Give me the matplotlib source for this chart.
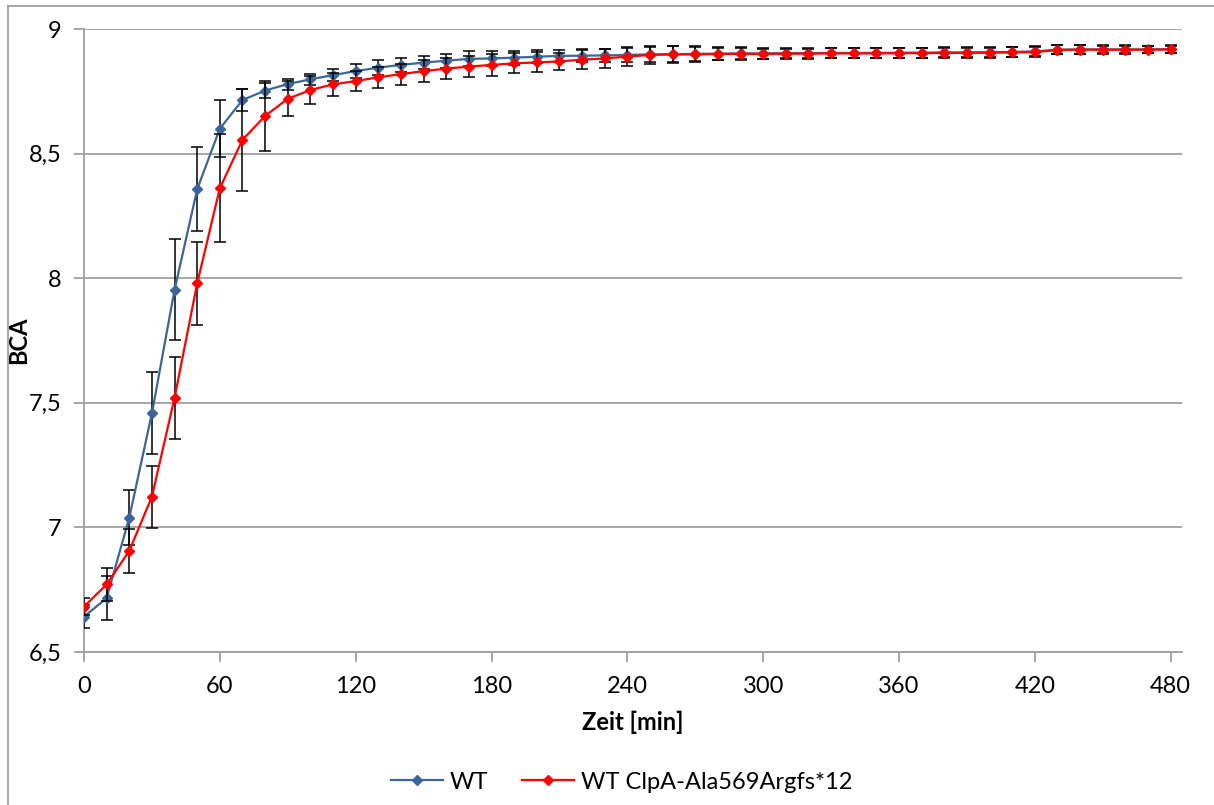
import matplotlib
matplotlib.use("Agg")
import matplotlib.pyplot as plt
from matplotlib.ticker import FuncFormatter
from matplotlib.lines import Line2D

# ---- data ----
time_min = list(range(0, 481, 10))

wt = [6.642, 6.716, 7.039, 7.458, 7.953, 8.357, 8.600, 8.715, 8.753, 8.779,
      8.798, 8.815, 8.831, 8.845, 8.856, 8.865, 8.873, 8.880, 8.882, 8.885,
      8.889, 8.892, 8.893, 8.894, 8.896, 8.898, 8.899, 8.900, 8.901, 8.902,
      8.902, 8.903, 8.903, 8.904, 8.904, 8.904, 8.905, 8.905, 8.906, 8.906,
      8.907, 8.908, 8.910, 8.917, 8.918, 8.918, 8.918, 8.918, 8.919]
wt_err = [0.047, 0.089, 0.110, 0.165, 0.203, 0.168, 0.115, 0.043, 0.030, 0.022,
          0.022, 0.023, 0.027, 0.030, 0.027, 0.027, 0.028, 0.030, 0.030, 0.028,
          0.027, 0.025, 0.025, 0.026, 0.028, 0.030, 0.032, 0.030, 0.027, 0.025,
          0.022, 0.021, 0.020, 0.020, 0.020, 0.020, 0.020, 0.020, 0.020, 0.020,
          0.020, 0.020, 0.020, 0.018, 0.017, 0.016, 0.016, 0.015, 0.015]

mut = [6.682, 6.771, 6.906, 7.123, 7.520, 7.979, 8.361, 8.555, 8.651, 8.720,
       8.755, 8.778, 8.791, 8.806, 8.819, 8.831, 8.841, 8.849, 8.856, 8.862,
       8.866, 8.870, 8.877, 8.882, 8.889, 8.896, 8.898, 8.898, 8.900, 8.900,
       8.900, 8.901, 8.901, 8.902, 8.902, 8.902, 8.903, 8.903, 8.904, 8.904,
       8.905, 8.906, 8.907, 8.916, 8.917, 8.917, 8.917, 8.917, 8.918]
mut_err = [0.034, 0.067, 0.088, 0.125, 0.164, 0.168, 0.216, 0.205, 0.140, 0.070,
           0.056, 0.047, 0.040, 0.042, 0.042, 0.044, 0.043, 0.043, 0.043, 0.040,
           0.040, 0.035, 0.037, 0.038, 0.037, 0.036, 0.035, 0.030, 0.025, 0.022,
           0.020, 0.020, 0.020, 0.020, 0.020, 0.020, 0.020, 0.020, 0.020, 0.020,
           0.020, 0.020, 0.020, 0.018, 0.017, 0.016, 0.016, 0.015, 0.015]

labels = ["WT", "WT ClpA-Ala569Argfs*12"]
x_ticks = list(range(0, 481, 60))
y_ticks = [6.5, 7, 7.5, 8, 8.5, 9]

# ---- style ----
plt.rcParams['font.family'] = ['Lato', 'DejaVu Sans']
blue = '#3b6699'
red = '#ff0000'
grid_c = '#a0a0a0'

fig = plt.figure(figsize=(12.14, 8.05), dpi=100)
ax = fig.add_axes([84/1214, 1-652/805, (1182-84)/1214, (652-29)/805])

ax.errorbar(time_min, wt, yerr=wt_err, fmt='none', ecolor='black',
            elinewidth=1.1, capsize=4, capthick=1.1, zorder=3)
ax.plot(time_min, wt, color=blue, lw=1.6, marker='D', ms=5.5,
        mfc=blue, mec=blue, label=labels[0], zorder=4)
ax.errorbar(time_min, mut, yerr=mut_err, fmt='none', ecolor='black',
            elinewidth=1.1, capsize=4, capthick=1.1, zorder=5)
ax.plot(time_min, mut, color=red, lw=1.6, marker='D', ms=5.5,
        mfc=red, mec=red, label=labels[1], zorder=6)

ax.set_xlim(0, 485)
ax.set_ylim(6.5, 9)
ax.set_xticks(x_ticks)
ax.set_yticks(y_ticks)
fmt = FuncFormatter(lambda v, p: (f"{v:g}").replace('.', ','))
ax.yaxis.set_major_formatter(fmt)

ax.grid(axis='y', color=grid_c, lw=1.3)
ax.set_axisbelow(True)
for s in ['top', 'right']:
    ax.spines[s].set_visible(False)
for s in ['left', 'bottom']:
    ax.spines[s].set_color(grid_c)
    ax.spines[s].set_linewidth(1.3)
ax.tick_params(axis='both', colors=grid_c, length=7, width=1.3,
               labelcolor='black', labelsize=17, direction='out')
ax.tick_params(axis='y', pad=9)
ax.tick_params(axis='x', pad=10)

ax.set_xlabel("Zeit [min]", fontsize=17, fontweight='bold', labelpad=10)
ax.set_ylabel("BCA", fontsize=17, fontweight='bold')
ax.yaxis.set_label_coords((30-84)/1098, (652-340)/623)

fig.legend(loc='center', bbox_to_anchor=(0.512, 1-782/805), ncol=2,
           frameon=False, fontsize=17, handlelength=2.2, handletextpad=0.3,
           columnspacing=1.4, markerscale=0.9)

# outer chart border
fig.add_artist(Line2D([8/1214, 8/1214], [0, 1-6/805], color=grid_c, lw=1.3,
                      transform=fig.transFigure))
fig.add_artist(Line2D([8/1214, 1], [1-6/805, 1-6/805], color=grid_c, lw=1.3,
                      transform=fig.transFigure))

fig.savefig("out.png", dpi=100)
